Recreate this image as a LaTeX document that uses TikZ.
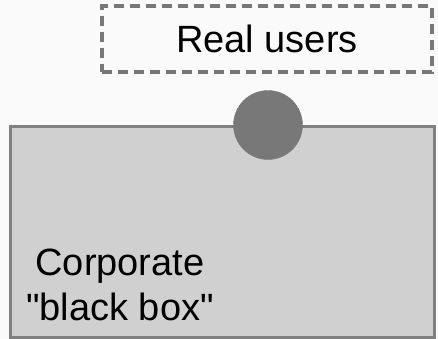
\documentclass[tikz,border=0pt]{standalone}
\usepackage{fontspec}
\setmainfont{Liberation Sans}

\definecolor{paper}{RGB}{250,250,250}
\definecolor{boxfill}{RGB}{208,208,208}
\definecolor{edge}{RGB}{128,128,128}
\definecolor{dot}{RGB}{120,120,120}

\tikzset{
  userbox/.style={draw=dot, line width=3.4pt, dash pattern=on 10pt off 6pt,
    minimum width=330pt, minimum height=66pt, inner sep=0pt},
  corpbox/.style={draw=edge, fill=boxfill, line width=2.4pt,
    minimum width=424pt, minimum height=211pt, inner sep=0pt},
  bigtext/.style={font=\fontsize{38}{45}\selectfont, inner sep=0pt}
}

\begin{document}
\begin{tikzpicture}[x=1pt,y=-1pt] % users sitting on top of the company box
  \fill[paper] (0,0) rectangle (438,339);
  \useasboundingbox (0,0) rectangle (438,339);

  \node[userbox] (users) at (267,39) {};
  \node[bigtext] (usertxt) at (users.center) {Real users};

  \node[corpbox] (corp) at (222.5,232) {};
  \filldraw[dot] (268,125) circle (34.5) coordinate (user);

  \node[bigtext, align=center, anchor=base] (corptxt) at (120,320)
    {Corporate\\\textquotedbl black box\textquotedbl};
\end{tikzpicture}
\end{document}
